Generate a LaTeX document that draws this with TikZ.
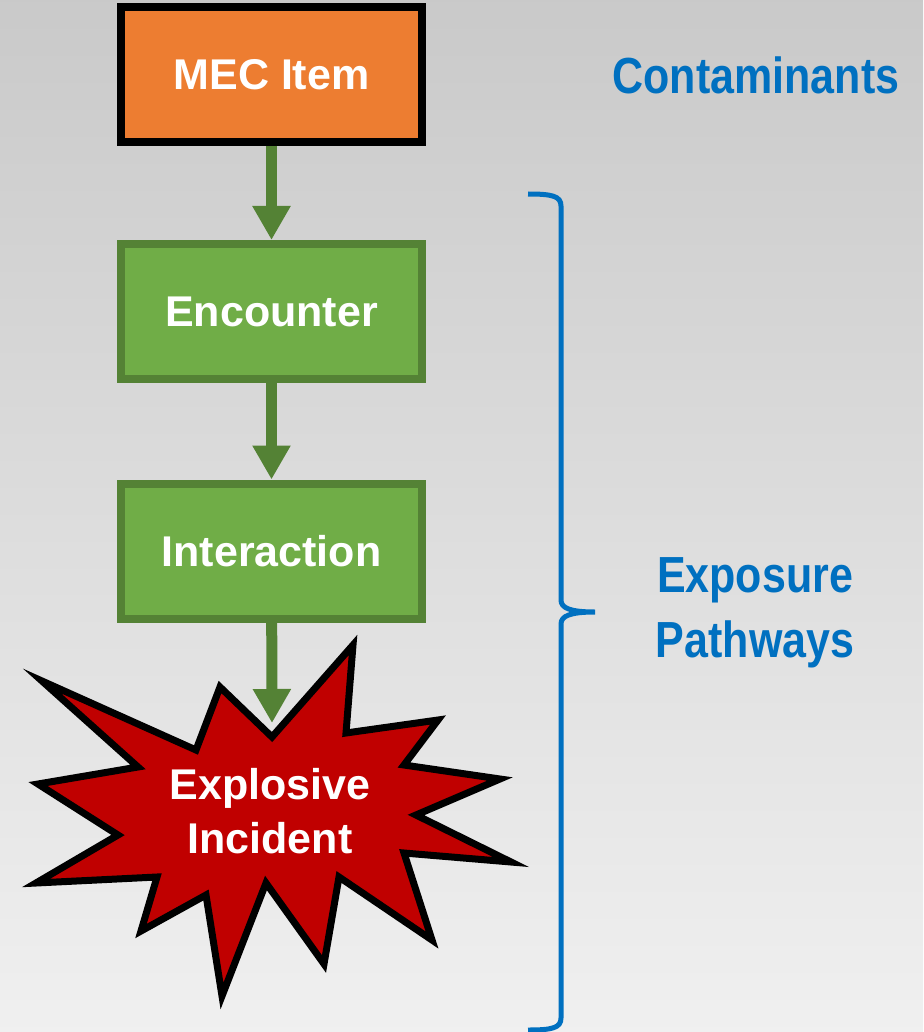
\documentclass[tikz,border=0pt]{standalone}
\usepackage{fontspec}
\setmainfont{Liberation Sans}
\usepackage{xcolor}
\usetikzlibrary{arrows.meta}
\definecolor{mecorange}{HTML}{ED7D31}
\definecolor{stepgreen}{HTML}{70AD47}
\definecolor{edgegreen}{HTML}{548235}
\definecolor{blastred}{HTML}{C00000}
\definecolor{labelblue}{HTML}{0070C0}
\begin{document}
\begin{tikzpicture}[x=0.5pt, y=-0.5pt,
    stepbox/.style={draw, line width=4pt, minimum width=150.5pt, minimum height=67.5pt,
      text=white, font=\bfseries\fontsize{21.5}{26}\selectfont},
    flow/.style={draw=edgegreen, line width=5.5pt, -{Triangle[width=18pt, length=17pt]}},
    sidelabel/.style={text=labelblue, align=center, yscale=1.18, transform shape,
      font=\bfseries\fontsize{21.5}{27.5}\selectfont}]
    \useasboundingbox (0,0) rectangle (923,1032);
    \shade [top color=black!21, bottom color=black!6] (0,0) rectangle (923,1032);
    % boxes
    \node [stepbox, fill=mecorange, draw=black] (mec) at (271.5,75) {MEC Item};
    \node [stepbox, fill=stepgreen, draw=edgegreen] (encounter) at (271.5,311.5) {Encounter};
    \node [stepbox, fill=stepgreen, draw=edgegreen] (interaction) at (271.5,551) {Interaction};
    % burst
    \draw [fill=blastred, line width=3.5pt] (220,687) -- (272,737) -- (353,645) -- (346,733) -- (438,720)
        -- (404,765) -- (500,779) -- (416,815) -- (511,862) -- (404,853) -- (432,940) -- (339,877)
        -- (324,964) -- (266,883) -- (222,996) -- (206,895) -- (141,931) -- (157,877) -- (36,883)
        -- (118,835) -- (38,784) -- (138,767) -- (42,681) -- (196,750) -- cycle;
    \node [text=white, align=center, font=\bfseries\fontsize{21.5}{27}\selectfont] (incident) at (270,811) {Explosive\\Incident};
    \coordinate (burst) at (272,723);
    \draw [flow] (mec) -- (encounter);
    \draw [flow] (encounter) -- (interaction);
    \draw [flow] (interaction) -- (burst);
    % brace and labels
    \draw [labelblue, line width=2.5pt] (528,194) .. controls (552,194) and (561,196) .. (561,206) -- (561,600)
        .. controls (561,608) and (570,612) .. (595,612) .. controls (570,612) and (561,616) .. (561,624)
        -- (561,1018) .. controls (561,1028) and (552,1030) .. (528,1030);
    \node [sidelabel] (contaminants) at (756,75) {Contaminants};
    \node [sidelabel] (exposure) at (755,613) {Exposure\\Pathways};
\end{tikzpicture}
\end{document}
